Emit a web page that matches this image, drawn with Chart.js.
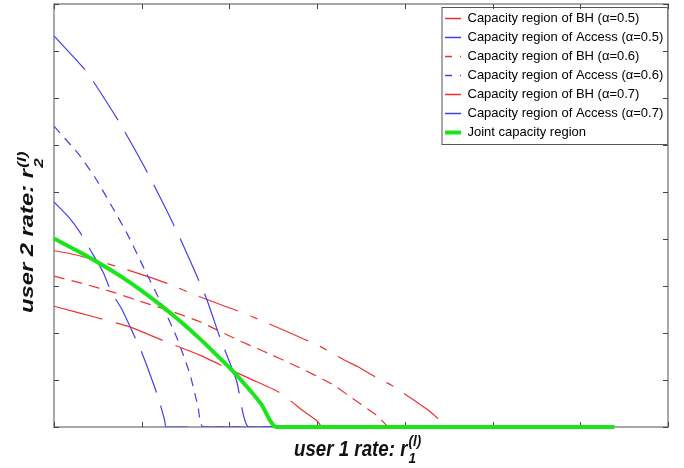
<!DOCTYPE html>
<html>
<head>
<meta charset="utf-8">
<title>Joint capacity region</title>
<script src="https://cdn.jsdelivr.net/npm/chart.js@4.4.1/dist/chart.umd.min.js"></script>
<style>
    html, body { margin: 0; padding: 0; background: #fff; }
    canvas { display: block; }
</style>
</head>
<body>
<canvas id="graphe" width="684" height="468"></canvas>
<script>
// Graduations des axes (pas de libellés chiffrés sur la figure)
const xTickValues = [0, 1, 2, 3, 4, 5, 6, 7];
const yTickValues = [0, 1, 2, 3, 4, 5, 6, 7, 8, 9];

const seriesLabels = [
    'Capacity region of BH (\u03b1=0.5)',
    'Capacity region of Access (\u03b1=0.5)',
    'Capacity region of BH (\u03b1=0.6)',
    'Capacity region of Access (\u03b1=0.6)',
    'Capacity region of BH (\u03b1=0.7)',
    'Capacity region of Access (\u03b1=0.7)',
    'Joint capacity region'
];

// Valeurs
const bh05X = [0, 0.483, 0.863, 1.282, 1.661, 2.023, 2.231, 2.554, 2.859, 3.010, 3.05];
const bh05Y = [2.57, 2.33, 2.13, 1.81, 1.53, 1.21, 1.03, 0.75, 0.32, 0.11, 0];

const access05X = [0, 0.35, 0.456, 0.749, 1.072, 1.399, 1.730, 1.889, 2.080, 2.212, 2.6];
const access05Y = [8.32, 7.61, 7.33, 6.47, 5.39, 4.17, 2.77, 1.92, 0.99, 0, 0];

const bh06X = [0, 0.331, 0.673, 0.94, 1.357, 1.661, 2.098, 2.402, 2.745, 3.163, 3.409, 3.676, 3.81];
const bh06Y = [3.21, 3.05, 2.87, 2.70, 2.45, 2.24, 1.85, 1.60, 1.31, 0.92, 0.60, 0.25, 0];

const access06X = [0, 0.274, 0.464, 0.673, 0.832, 1.054, 1.205, 1.396, 1.547, 1.642, 1.70, 2.6];
const access06Y = [6.40, 5.82, 5.32, 4.65, 4.12, 3.27, 2.70, 1.92, 1.14, 0.43, 0, 0];

const bh07X = [0, 0.255, 0.673, 1.054, 1.30, 1.661, 2.023, 2.269, 2.668, 3.049, 3.315, 3.466, 3.694, 3.847, 4.265, 4.398, 4.47];
const bh07Y = [3.75, 3.66, 3.44, 3.21, 3.05, 2.77, 2.52, 2.34, 2.02, 1.70, 1.42, 1.28, 1.03, 0.89, 0.36, 0.14, 0];

const access07X = [0, 0.179, 0.293, 0.426, 0.559, 0.654, 0.769, 0.920, 0.997, 1.091, 1.186, 1.262, 1.28, 2.6];
const access07Y = [4.79, 4.44, 4.15, 3.73, 3.30, 2.87, 2.52, 1.92, 1.60, 1.14, 0.64, 0.14, 0, 0];

const jointX = [0, 0.255, 0.502, 0.749, 0.977, 1.205, 1.433, 1.661, 1.795, 2.023, 2.212, 2.365, 2.536, 6.39];
const jointY = [4.01, 3.76, 3.50, 3.22, 2.93, 2.61, 2.26, 1.88, 1.64, 1.22, 0.83, 0.48, 0, 0];

const xTitle = 'user 1 rate: r';
const yTitle = 'user 2 rate: r';

const RED = '#f03030';
const BLUE = '#4040ee';
const GREEN = '#19e619';
const FONT = '"Liberation Sans", Arial, sans-serif';

function toPoints(xs, ys) {
    return xs.map((x, i) => ({ x: x, y: ys[i] }));
}

function serie(label, xs, ys, color, dash, width, order) {
    return {
        label: label,
        data: toPoints(xs, ys),
        borderColor: color,
        backgroundColor: color,
        borderWidth: width,
        borderDash: dash,
        showLine: true,
        pointRadius: 0,
        fill: false,
        order: order,
        tension: 0.2
    };
}

// tirets de la légende (traits pleins sauf alpha = 0.6)
const legendDash = [[], [], [7, 8], [7, 8], [], [], []];

// cadre, graduations vers l'intérieur, titres des axes, position de la légende
const cadrePlugin = {
    id: 'cadre',
    afterLayout(chart) {
        const lg = chart.legend;
        const a = chart.chartArea;
        if (!lg) return;
        lg.left = a.right - 229;
        lg.right = lg.left + lg.width;
        lg.top = a.top + 2;
    },
    beforeDraw(chart) {
        const ctx = chart.ctx;
        const a = chart.chartArea;
        const lg = chart.legend;
        ctx.save();
        ctx.fillStyle = '#fff';
        ctx.fillRect(0, 0, chart.width, chart.height);
        const bx = lg.left + 3, by = lg.top + 1.5;
        const bw = a.right - 0.5 - bx, bh = 137;
        ctx.strokeStyle = '#555';
        ctx.lineWidth = 1;
        ctx.strokeRect(bx, by, bw, bh);
        ctx.restore();
    },
    beforeDatasetsDraw(chart) {
        const ctx = chart.ctx;
        const a = chart.chartArea;
        const sx = chart.scales.x;
        const sy = chart.scales.y;
        ctx.save();
        ctx.strokeStyle = '#8a8a8a';
        ctx.lineWidth = 1.5;
        ctx.strokeRect(a.left, a.top, a.right - a.left, a.bottom - a.top);
        ctx.strokeStyle = '#444';
        ctx.lineWidth = 1;
        ctx.beginPath();
        xTickValues.forEach(v => {
            const px = Math.round(sx.getPixelForValue(v)) + 0.5;
            ctx.moveTo(px, a.bottom); ctx.lineTo(px, a.bottom - 5);
            ctx.moveTo(px, a.top); ctx.lineTo(px, a.top + 5);
        });
        yTickValues.forEach(v => {
            const py = Math.round(sy.getPixelForValue(v)) + 0.5;
            ctx.moveTo(a.left, py); ctx.lineTo(a.left + 5, py);
            ctx.moveTo(a.right, py); ctx.lineTo(a.right - 5, py);
        });
        ctx.stroke();
        ctx.restore();
    },
    afterDraw(chart) {
        const ctx = chart.ctx;
        const a = chart.chartArea;
        ctx.save();
        ctx.fillStyle = '#111';
        ctx.textBaseline = 'alphabetic';
        ctx.textAlign = 'left';

        // titre axe x
        ctx.save();
        ctx.translate(a.left + 240, a.bottom + 29);
        ctx.scale(1.04, 1.18);
        drawTitre(ctx, xTitle, '1', '(l)', 6, -8.5);
        ctx.restore();

        // titre axe y
        ctx.save();
        ctx.translate(a.left - 21, a.bottom - 114);
        ctx.rotate(-Math.PI / 2);
        ctx.scale(1.32, 1);
        drawTitre(ctx, yTitle, '2', '(l)', 10, -7);
        ctx.restore();

        ctx.restore();
    }
};

function drawTitre(ctx, main, sub, sup, subDy, supDy) {
    ctx.font = 'italic bold 18px ' + FONT;
    ctx.fillText(main, 0, 0);
    const w = ctx.measureText(main).width;
    ctx.font = 'italic bold 13px ' + FONT;
    ctx.fillText(sub, w + 1, subDy);
    ctx.fillText(sup, w + 1, supDy);
}

const ctx = document.getElementById('graphe').getContext('2d');

const chartInstance = new Chart(ctx, {
    type: 'scatter',
    data: {
        datasets: [
            serie(seriesLabels[0], bh05X, bh05Y, RED, [50, 14], 1.2, 1),
            serie(seriesLabels[1], access05X, access05Y, BLUE, [46, 14], 1.2, 1),
            serie(seriesLabels[2], bh06X, bh06Y, RED, [11, 7], 1.2, 1),
            serie(seriesLabels[3], access06X, access06Y, BLUE, [9, 7], 1.2, 1),
            serie(seriesLabels[4], bh07X, bh07Y, RED, [42, 13, 8, 13], 1.2, 1),
            serie(seriesLabels[5], access07X, access07Y, BLUE, [44, 14], 1.2, 1),
            Object.assign(serie(seriesLabels[6], jointX, jointY, GREEN, [], 4, 0), { clip: 4 })
        ]
    },
    options: {
        responsive: false,
        animation: false,
        devicePixelRatio: 1,
        events: [],
        layout: {
            padding: { left: 54, top: 4, right: 16, bottom: 41 }
        },
        scales: {
            x: { type: 'linear', min: 0, max: 7, display: false },
            y: { type: 'linear', min: 0, max: 9, display: false }
        },
        plugins: {
            tooltip: { enabled: false },
            legend: {
                position: 'chartArea',
                align: 'start',
                labels: {
                    color: '#000',
                    font: { size: 13, family: FONT },
                    padding: 6,
                    usePointStyle: true,
                    pointStyle: 'line',
                    pointStyleWidth: 16,
                    sort: (a, b) => a.datasetIndex - b.datasetIndex,
                    generateLabels(chart) {
                        const items = Chart.defaults.plugins.legend.labels.generateLabels(chart);
                        items.forEach(it => {
                            const ds = chart.data.datasets[it.datasetIndex];
                            it.lineDash = legendDash[it.datasetIndex];
                            it.strokeStyle = ds.borderColor;
                            it.fillStyle = ds.borderColor;
                            it.lineWidth = ds.borderWidth === 4 ? 4 : 1.5;
                        });
                        return items;
                    }
                }
            }
        }
    },
    plugins: [cadrePlugin]
});
</script>
</body>
</html>
